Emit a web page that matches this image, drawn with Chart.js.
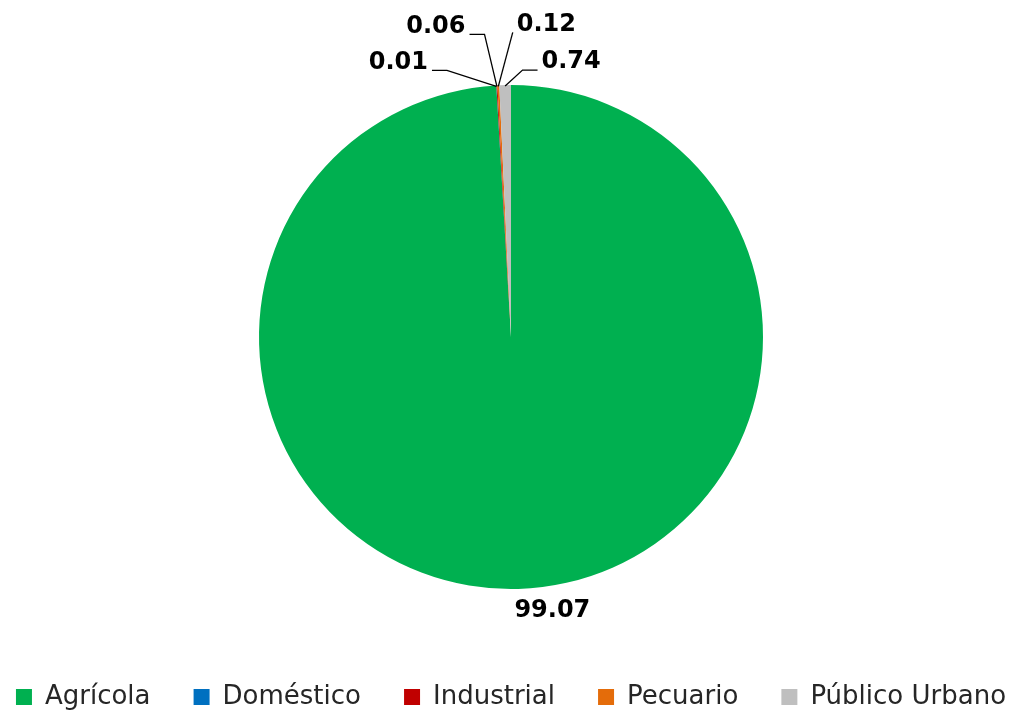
<!DOCTYPE html>
<html lang="es">
<head>
    <meta charset="UTF-8">
    <title>Usos del agua</title>
    <style>
        html, body { margin: 0; padding: 0; background: #fff; }
        #wrap { width: 1028px; height: 715px; }
    </style>
</head>
<body>
    <div id="wrap"><canvas id="chart"></canvas></div>

    <script src="https://cdn.jsdelivr.net/npm/chart.js"></script>
    <script>
        // Datos del grafico
        const usos = ['Agrícola', 'Doméstico', 'Industrial', 'Pecuario', 'Público Urbano'];
        const porcentajes = [99.07, 0.01, 0.06, 0.12, 0.74];
        const colores = ['#00B050', '#0070C0', '#C00000', '#E46C0A', '#BFBFBF'];

        // desplazamiento de cada etiqueta respecto al borde del sector (estilo, no datos)
        const offsetEtiquetas = [
            { dx: 34, dy: 22, linea: false },
            { dx: -98, dy: -23, linea: true, lado: 'izq' },
            { dx: -61, dy: -59, linea: true, lado: 'izq' },
            { dx: 48, dy: -61, linea: true, lado: 'der', codo: 0 },
            { dx: 66, dy: -23, linea: true, lado: 'der' }
        ];

        const etiquetasPlugin = {
            id: 'etiquetas',
            afterDatasetsDraw(chart) {
                const ctx = chart.ctx;
                const meta = chart.getDatasetMeta(0);
                ctx.save();
                ctx.font = 'bold 24px "DejaVu Sans"';
                ctx.textAlign = 'center';
                ctx.textBaseline = 'middle';
                meta.data.forEach((arc, i) => {
                    const p = arc.getProps(['x', 'y', 'startAngle', 'endAngle', 'outerRadius'], true);
                    const mid = (p.startAngle + p.endAngle) / 2;
                    const ax = p.x + Math.cos(mid) * p.outerRadius;
                    const ay = p.y + Math.sin(mid) * p.outerRadius;
                    const o = offsetEtiquetas[i];
                    const lx = ax + o.dx;
                    const ly = ay + o.dy;
                    const texto = porcentajes[i].toFixed(2);
                    if (o.linea) {
                        const w = ctx.measureText(texto).width;
                        const borde = o.lado === 'izq' ? lx + w / 2 + 4 : lx - w / 2 - 4;
                        const codo = o.codo === undefined ? 15 : o.codo;
                        const cx = o.lado === 'izq' ? borde + codo : borde - codo;
                        const cy = ly + 8;
                        ctx.strokeStyle = '#000';
                        ctx.lineWidth = 1.3;
                        ctx.beginPath();
                        ctx.moveTo(borde, cy);
                        ctx.lineTo(cx, cy);
                        ctx.lineTo(ax, ay + 1);
                        ctx.stroke();
                    }
                    ctx.fillStyle = '#000';
                    ctx.fillText(texto, lx, ly);
                });
                ctx.restore();
            }
        };

        const ctx = document.getElementById('chart').getContext('2d');
        const chart = new Chart(ctx, {
            type: 'pie',
            data: {
                labels: usos,
                datasets: [{
                    data: porcentajes,
                    backgroundColor: colores,
                    borderWidth: 0,
                    radius: 252
                }]
            },
            options: {
                responsive: true,
                maintainAspectRatio: false,
                animation: false,
                layout: { padding: { top: -2, bottom: 1, left: 0, right: 6 } },
                plugins: {
                    tooltip: { enabled: false },
                    legend: {
                        position: 'bottom',
                        maxHeight: 40,
                        labels: {
                            boxWidth: 16,
                            boxHeight: 16,
                            padding: 10,
                            color: '#262626',
                            font: { family: '"DejaVu Sans"', size: 26 },
                            // espacio extra entre elementos de la leyenda
                            generateLabels(chart) {
                                const items = Chart.overrides.pie.plugins.legend.labels.generateLabels(chart);
                                items.forEach((it, i) => {
                                    if (i < items.length - 1) it.text = it.text + '\u00a0\u00a0\u00a0\u00a0';
                                });
                                return items;
                            }
                        }
                    }
                }
            },
            plugins: [etiquetasPlugin]
        });
    </script>
</body>
</html>
